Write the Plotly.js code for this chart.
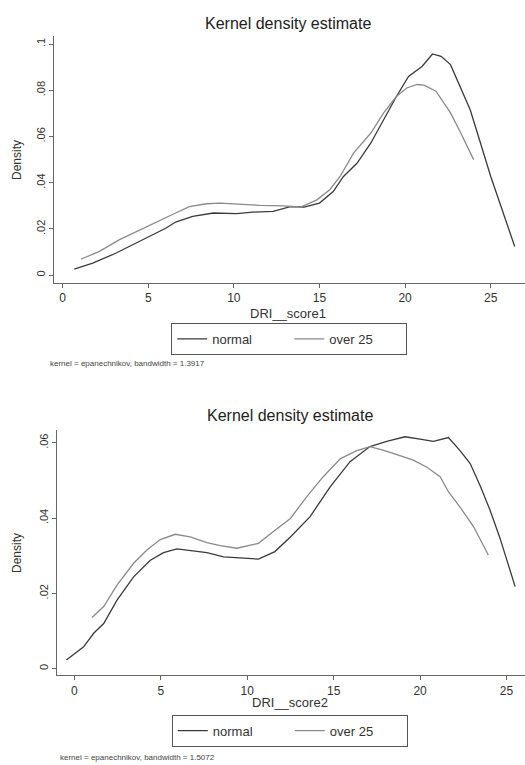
<!DOCTYPE html>
<html>
<head>
<meta charset="utf-8">
<script src="https://cdn.plot.ly/plotly-3.0.1.min.js"></script>
<style>html,body{margin:0;padding:0;background:#fff;}#chart{width:525px;height:765px;}</style>
</head>
<body>
<div id="chart"></div>
<script>
// ---- Panel 1: DRI__score1 ----
const s1NormalX = [0.68,1.76,3.1,4.7,6.05,6.6,7.6,8.8,10.15,11.1,12.3,13.3,14.1,15.0,15.8,16.4,17.2,18.0,18.75,19.5,20.2,21.0,21.6,22.1,22.65,23.2,23.8,24.4,25.0,25.6,26.4];
const s1NormalY = [0.0026,0.0052,0.0095,0.0156,0.0204,0.023,0.0254,0.0269,0.0266,0.0273,0.0276,0.0297,0.0295,0.0312,0.0362,0.0427,0.0485,0.0572,0.0673,0.0774,0.086,0.0904,0.0957,0.0947,0.0911,0.0817,0.0716,0.0572,0.0427,0.0297,0.0124];
const s1OverX = [1.07,2.15,3.3,4.5,5.7,6.6,7.4,8.4,9.2,10.35,11.5,12.9,13.9,14.85,15.6,16.2,17.0,18.0,18.75,19.5,20.1,20.7,21.1,21.8,22.65,23.25,24.0];
const s1OverY = [0.0069,0.0103,0.0153,0.0196,0.024,0.0269,0.0297,0.0309,0.0312,0.0306,0.0302,0.030,0.0295,0.0326,0.037,0.0427,0.0529,0.0615,0.0702,0.0774,0.081,0.0825,0.0822,0.0796,0.0702,0.0615,0.050];

// ---- Panel 2: DRI__score2 ----
const s2NormalX = [-0.46,0.54,1.12,1.7,2.47,3.43,4.4,5.16,5.93,6.9,7.67,8.63,9.6,10.65,11.6,12.5,13.64,14.8,15.95,17.1,18.07,19.13,20.0,20.77,21.64,22.3,22.9,23.5,24.05,24.6,25.5];
const s2NormalY = [0.0023,0.0058,0.0094,0.012,0.0182,0.0244,0.0288,0.0308,0.0318,0.0313,0.0308,0.0297,0.0295,0.0291,0.0311,0.035,0.0404,0.0483,0.055,0.059,0.0604,0.0616,0.061,0.0604,0.0614,0.058,0.0545,0.0483,0.0421,0.035,0.0218];
const s2OverX = [1.02,1.7,2.47,3.43,4.2,4.97,5.84,6.7,7.67,8.44,9.4,9.98,10.65,11.5,12.5,13.45,14.4,15.4,16.34,17.1,17.9,18.75,19.6,20.4,21.16,21.64,22.3,23.1,23.95];
const s2OverY = [0.0136,0.0165,0.0222,0.028,0.0315,0.0343,0.0357,0.035,0.0335,0.0327,0.032,0.0326,0.0333,0.0364,0.0399,0.0457,0.051,0.0558,0.0579,0.059,0.058,0.0567,0.0554,0.0535,0.051,0.047,0.043,0.0377,0.0302];

const seriesNames = ["normal", "over 25"];
const xTicks = [0, 5, 10, 15, 20, 25];
const xTickText = ["0", "5", "10", "15", "20", "25"];
const y1Ticks = [0, 0.02, 0.04, 0.06, 0.08, 0.1];
const y1TickText = ["0", ".02", ".04", ".06", ".08", ".1"];
const y2Ticks = [0, 0.02, 0.04, 0.06];
const y2TickText = ["0", ".02", ".04", ".06"];
const titles = ["Kernel density estimate", "Kernel density estimate"];
const xTitles = ["DRI__score1", "DRI__score2"];
const notes = ["kernel = epanechnikov, bandwidth = 1.3917", "kernel = epanechnikov, bandwidth = 1.5072"];

const FONT = "Liberation Sans, Arial, sans-serif";
const darkLine = {color: "#3a3a3a", width: 1.3};
const lightLine = {color: "#8a8a8a", width: 1.3};

const traces = [
  {x: s1NormalX, y: s1NormalY, name: seriesNames[0], type: "scatter", mode: "lines", line: darkLine, xaxis: "x", yaxis: "y", legend: "legend"},
  {x: s1OverX, y: s1OverY, name: seriesNames[1], type: "scatter", mode: "lines", line: lightLine, xaxis: "x", yaxis: "y", legend: "legend"},
  {x: s2NormalX, y: s2NormalY, name: seriesNames[0], type: "scatter", mode: "lines", line: darkLine, xaxis: "x2", yaxis: "y2", legend: "legend2"},
  {x: s2OverX, y: s2OverY, name: seriesNames[1], type: "scatter", mode: "lines", line: lightLine, xaxis: "x2", yaxis: "y2", legend: "legend2"}
];

const axCommon = {
  showgrid: false, zeroline: false, showline: true, linecolor: "#666", linewidth: 1,
  ticks: "outside", ticklen: 4, tickcolor: "#666", tickwidth: 1,
  tickfont: {family: FONT, size: 12, color: "#333"}, fixedrange: true
};

const legendCommon = {
  orientation: "h", xanchor: "center", yanchor: "middle",
  bordercolor: "#555", borderwidth: 1, bgcolor: "#fff",
  font: {family: FONT, size: 13, color: "#333"},
  entrywidth: 72, entrywidthmode: "pixels", itemclick: false, itemdoubleclick: false
};

const layout = {
  width: 525, height: 765,
  margin: {l: 0, r: 0, t: 0, b: 0},
  paper_bgcolor: "#fff", plot_bgcolor: "#fff",
  showlegend: true,
  xaxis: Object.assign({}, axCommon, {domain: [0.1029, 1], range: [-0.5, 27.0], tickvals: xTicks, ticktext: xTickText, anchor: "y"}),
  yaxis: Object.assign({}, axCommon, {domain: [0.630, 0.953], range: [-0.0034, 0.1035], tickvals: y1Ticks, ticktext: y1TickText, tickangle: -90, anchor: "x", tickfont: {family: FONT, size: 11, color: "#333"}}),
  xaxis2: Object.assign({}, axCommon, {domain: [0.1086, 1], range: [-1.0, 26.07], tickvals: xTicks, ticktext: xTickText, anchor: "y2"}),
  yaxis2: Object.assign({}, axCommon, {domain: [0.1173, 0.4379], range: [-0.00175, 0.0634], tickvals: y2Ticks, ticktext: y2TickText, tickangle: -90, anchor: "x2", tickfont: {family: FONT, size: 11, color: "#333"}}),
  legend: Object.assign({}, legendCommon, {x: 0.551, y: 0.557}),
  legend2: Object.assign({}, legendCommon, {x: 0.552, y: 0.045}),
  annotations: [
    {text: titles[0], x: 288/525, y: 1 - 23/765, xref: "paper", yref: "paper", showarrow: false, xanchor: "center", yanchor: "middle", font: {family: FONT, size: 16, color: "#222"}},
    {text: titles[1], x: 290/525, y: 1 - 416/765, xref: "paper", yref: "paper", showarrow: false, xanchor: "center", yanchor: "middle", font: {family: FONT, size: 16, color: "#222"}},
    {text: xTitles[0], x: 288/525, y: 1 - 313/765, xref: "paper", yref: "paper", showarrow: false, xanchor: "center", yanchor: "middle", font: {family: FONT, size: 13, color: "#333"}},
    {text: xTitles[1], x: 290/525, y: 1 - 702/765, xref: "paper", yref: "paper", showarrow: false, xanchor: "center", yanchor: "middle", font: {family: FONT, size: 13, color: "#333"}},
    {text: "Density", x: 17/525, y: 1 - 160/765, xref: "paper", yref: "paper", showarrow: false, textangle: -90, xanchor: "center", yanchor: "middle", font: {family: FONT, size: 12, color: "#333"}},
    {text: "Density", x: 17/525, y: 1 - 553/765, xref: "paper", yref: "paper", showarrow: false, textangle: -90, xanchor: "center", yanchor: "middle", font: {family: FONT, size: 12, color: "#333"}},
    {text: notes[0], x: 48/525, y: 1 - 363/765, xref: "paper", yref: "paper", showarrow: false, xanchor: "left", yanchor: "middle", font: {family: FONT, size: 8, color: "#444"}},
    {text: notes[1], x: 58/525, y: 1 - 757/765, xref: "paper", yref: "paper", showarrow: false, xanchor: "left", yanchor: "middle", font: {family: FONT, size: 8, color: "#444"}}
  ]
};

Plotly.newPlot("chart", traces, layout, {staticPlot: true, displayModeBar: false});
</script>
</body>
</html>
